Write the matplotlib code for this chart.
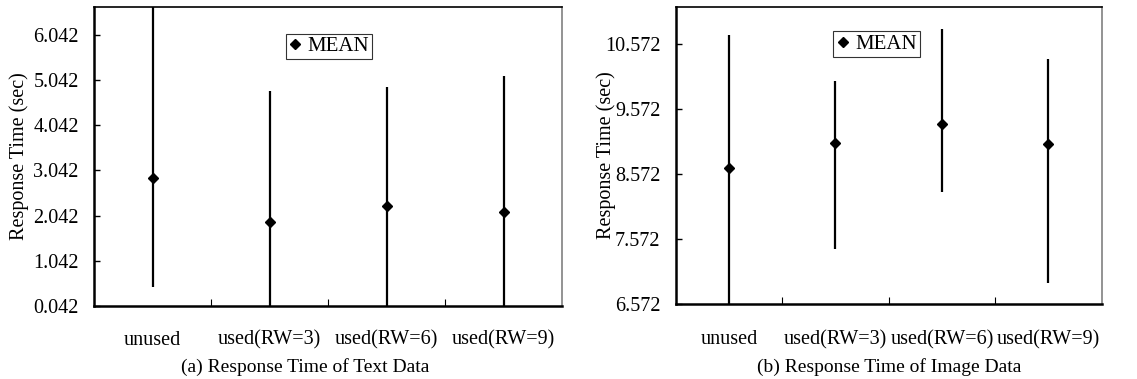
import matplotlib
matplotlib.use("Agg")
import matplotlib.pyplot as plt
from matplotlib.lines import Line2D

categories = ["unused", "used(RW=3)", "used(RW=6)", "used(RW=9)"]

# (a) Text data
text_mean = [2.88, 1.90, 2.25, 2.12]
text_low = [0.455, -0.5, -0.5, -0.5]
text_high = [7.2, 4.81, 4.88, 5.13]
text_ticks = [0.042, 1.042, 2.042, 3.042, 4.042, 5.042, 6.042]
text_ylim = (0.042, 6.66)

# (b) Image data
img_mean = [8.657, 9.040, 9.342, 9.034]
img_low = [6.3, 7.412, 8.292, 6.895]
img_high = [10.709, 10.002, 10.796, 10.331]
img_ticks = [6.572, 7.572, 8.572, 9.572, 10.572]
img_ylim = (6.572, 11.14)

captions = ["(a) Response Time of Text Data", "(b) Response Time of Image Data"]

plt.rcParams['font.family'] = ['Liberation Serif', 'DejaVu Serif']

FS = 14.5

fig = plt.figure(figsize=(11.37, 3.79), dpi=100)
ax1 = fig.add_axes([94/1137, 1-306/379, (562-94)/1137, (306-7)/379])
ax2 = fig.add_axes([675.7/1137, 1-304/379, (1101.7-675.7)/1137, (304-6.7)/379])

def draw(ax, mean, low, high, ticks, ylim, caption, legpos, ylab_x, cat_y, cap_x, cap_y):
    x = list(range(len(categories)))
    for i in x:
        ax.plot([i, i], [low[i], high[i]], color='black', lw=1.6, solid_capstyle='butt', zorder=2)
    ax.plot(x, mean, linestyle='none', marker='D', markersize=5.2, color='black', zorder=3)
    ax.set_xlim(-0.5, len(categories) - 0.5)
    ax.set_ylim(*ylim)
    ax.set_yticks(ticks)
    ax.set_yticklabels([f"{t:.3f}" for t in ticks], fontsize=FS)
    ax.tick_params(axis='y', direction='in', length=4, width=1, pad=11)
    ax.set_xticks([i + 0.5 for i in x[:-1]])
    ax.set_xticklabels([])
    ax.tick_params(axis='x', direction='in', length=5, width=0.8)
    for i, c in enumerate(categories):
        ax.text(i, cat_y, c, transform=ax.get_xaxis_transform(), ha='center', va='center', fontsize=FS)
    ax.text(cap_x, cap_y, caption, transform=ax.transAxes, ha='center', va='center', fontsize=14)
    ax.set_ylabel("Response Time (sec)", fontsize=FS)
    ax.yaxis.set_label_coords(ylab_x, 0.5)
    ax.spines['left'].set_linewidth(1.8)
    ax.spines['bottom'].set_linewidth(1.8)
    ax.spines['top'].set_linewidth(1.2)
    ax.spines['right'].set_linewidth(1.2)
    ax.spines['right'].set_color('#808080')
    h = Line2D([], [], linestyle='none', marker='D', markersize=5, color='black')
    leg = ax.legend([h], ["MEAN"], loc='center', bbox_to_anchor=legpos, fontsize=15,
                    frameon=True, fancybox=False, handlelength=0.6, handletextpad=0.3,
                    borderpad=0.15, borderaxespad=0)
    leg.get_frame().set_edgecolor('black')
    leg.get_frame().set_linewidth(0.8)

draw(ax1, text_mean, text_low, text_high, text_ticks, text_ylim, captions[0],
     ((329 - 94) / 468, 1 - (46.5 - 7) / 299), -0.139, -0.114, (305 - 94) / 468, -0.203)
draw(ax2, img_mean, img_low, img_high, img_ticks, img_ylim, captions[1],
     ((876.5 - 675.7) / 426, 1 - (44 - 6.7) / 297.3), -0.140, -0.121, 0.5, -0.211)

fig.savefig("out.png", dpi=100)
